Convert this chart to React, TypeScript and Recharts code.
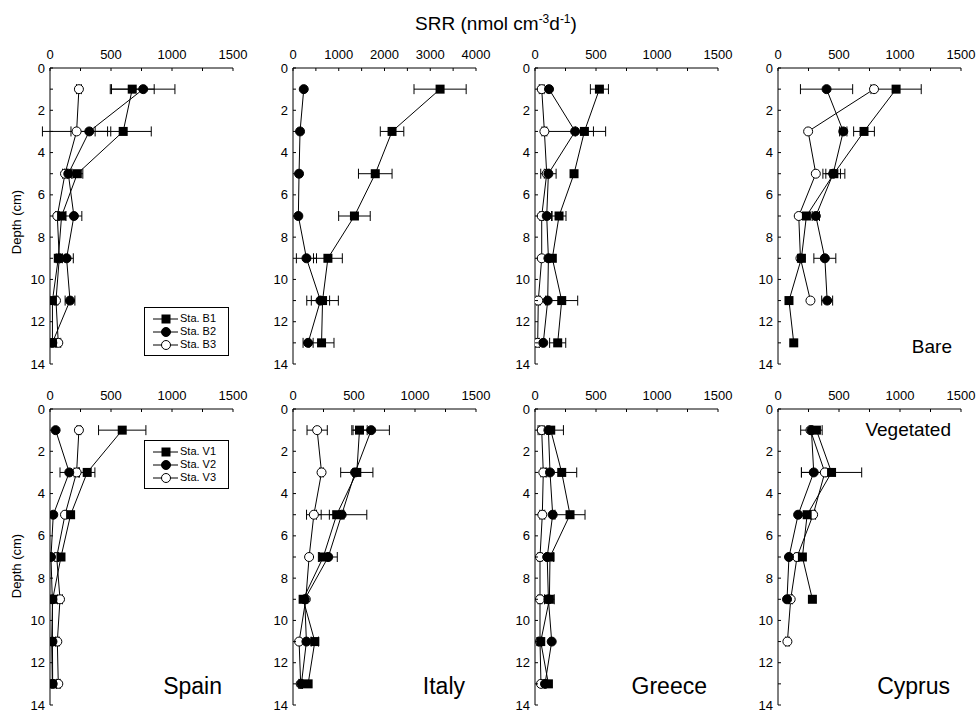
import React from 'react';
import { ScatterChart, Scatter, XAxis, YAxis, ErrorBar, Legend } from 'recharts';

const FONT = '"Liberation Sans", Arial, Helvetica, sans-serif';

// sampling depths (cm) and axis ticks
const DEPTHS = [1, 3, 5, 7, 9, 11, 13];
const DEPTH_TICKS = [0, 1, 2, 3, 4, 5, 6, 7, 8, 9, 10, 11, 12, 13, 14];
const SRR_TICKS = [0, 250, 500, 750, 1000, 1250, 1500];
const SRR_TICKS_WIDE = [0, 500, 1000, 1500, 2000, 2500, 3000, 3500, 4000];

const COUNTRIES = ['Spain', 'Italy', 'Greece', 'Cyprus'];
const BARE_NAMES = ['Sta. B1', 'Sta. B2', 'Sta. B3'];
const VEG_NAMES = ['Sta. V1', 'Sta. V2', 'Sta. V3'];

// Bare sediments, SRR (nmol cm-3 d-1) with errors
const spainB1 = [674, 600, 224, 95, 68, 20, 20];
const spainB1Err = [180, 230, 45, 0, 0, 0, 0];
const spainB2 = [764, 322, 150, 196, 136, 164, 19];
const spainB2Err = [260, 150, 30, 65, 55, 40, 0];
const spainB3 = [237, 218, 123, 60, 76, 49, 68];
const spainB3Err = [20, 280, 20, 15, 25, 15, 20];

const italyB1 = [3215, 2165, 1798, 1343, 763, 646, 624];
const italyB1Err = [570, 257, 367, 345, 315, 345, 272];
const italyB2 = [235, 154, 132, 117, 294, 600, 330];
const italyB2Err = [0, 0, 0, 0, 220, 200, 110];
const italyB3: (number | null)[] = [null, null, null, null, null, null, null];
const italyB3Err = [0, 0, 0, 0, 0, 0, 0];

const greeceB1 = [528, 405, 320, 197, 142, 219, 186];
const greeceB1Err = [74, 74, 0, 57, 0, 131, 66];
const greeceB2 = [115, 329, 110, 96, 110, 104, 68];
const greeceB2Err = [0, 250, 63, 40, 0, 0, 0];
const greeceB3 = [55, 77, 96, 55, 55, 27, 22];
const greeceB3Err = [20, 20, 20, 15, 0, 15, 15];

const cyprusB1 = [968, 705, 458, 233, 192, 90, 129];
const cyprusB1Err = [206, 85, 90, 0, 0, 0, 0];
const cyprusB2 = [398, 535, 452, 310, 384, 403, null];
const cyprusB2Err = [214, 30, 60, 30, 90, 45, 0];
const cyprusB3 = [787, 247, 310, 170, 184, 266, null];
const cyprusB3Err = [0, 0, 0, 0, 0, 0, 0];

// Vegetated sediments
const spainV1 = [592, 305, 169, 90, 22, 14, 19];
const spainV1Err = [194, 63, 0, 0, 0, 0, 0];
const spainV2 = [46, 158, 27, 8, 19, 20, 22];
const spainV2Err = [0, 76, 0, 0, 0, 0, 0];
const spainV3 = [237, 218, 123, 55, 82, 60, 68];
const spainV3Err = [15, 20, 0, 15, 20, 15, 15];

const italyV1 = [545, 523, 358, 248, 83, 179, 124];
const italyV1Err = [63, 132, 60, 40, 0, 30, 0];
const italyV2 = [641, 509, 399, 289, 96, 110, 69];
const italyV2Err = [149, 0, 206, 74, 0, 0, 0];
const italyV3 = [198, 234, 171, 132, 105, 50, 63];
const italyV3Err = [83, 15, 60, 0, 0, 0, 15];

const greeceV1 = [129, 219, 287, 123, 118, 47, 110];
const greeceV1Err = [104, 123, 123, 30, 40, 0, 0];
const greeceV2 = [110, 123, 145, 100, 110, 137, 82];
const greeceV2Err = [0, 0, 0, 0, 0, 0, 0];
const greeceV3 = [55, 68, 60, 41, 41, 41, 49];
const greeceV3Err = [20, 20, 20, 15, 15, 15, 0];

const cyprusV1 = [315, 439, 239, 200, 282, null, null];
const cyprusV1Err = [0, 247, 0, 0, 0, 0, 0];
const cyprusV2 = [274, 293, 165, 90, 74, null, null];
const cyprusV2Err = [88, 101, 0, 0, 0, 0, 0];
const cyprusV3 = [266, 384, 288, 156, 104, 77, null];
const cyprusV3Err = [0, 0, 20, 15, 15, 15, 0];

type Kind = 'square' | 'filled' | 'open';
const KINDS: Kind[] = ['square', 'filled', 'open'];

// layout
const PLOT_LEFT = [50, 293, 535, 778];
const PLOT_TOP = [68, 409];
const PLOT_W = 183;
const PLOT_H = 296;
const CHART_W = 250;
const CHART_H = 336;
const MARGIN = { top: 0, right: 27, bottom: 10, left: 10 };

const toPoints = (values: (number | null)[], errs: number[]) =>
  DEPTHS.map((d, i) => ({ x: values[i], y: d, err: errs[i] || undefined })).filter((p) => p.x != null);

function Marker({ kind, cx, cy }: { kind: Kind; cx: number; cy: number }) {
  if (kind === 'square') return <rect x={cx - 4.5} y={cy - 4.5} width={9} height={9} fill="#000" />;
  return (
    <circle cx={cx} cy={cy} r={4.5} fill={kind === 'filled' ? '#000' : '#fff'} stroke="#000" strokeWidth={1} />
  );
}

const TopTick = (props: any) => {
  const { x, y, payload, step } = props;
  return (
    <g>
      <line x1={x} x2={x} y1={y} y2={y + 3} stroke="#000" />
      {payload.value % step === 0 && (
        <text x={x} y={y - 9} textAnchor="middle" fontSize={13} fontFamily={FONT} fill="#000">
          {payload.value}
        </text>
      )}
    </g>
  );
};

const LeftTick = (props: any) => {
  const { x, y, payload } = props;
  return (
    <g>
      <line x1={x} x2={x + 3} y1={y} y2={y} stroke="#000" />
      {payload.value % 2 === 0 && (
        <text x={x - 5} y={y + 4.5} textAnchor="end" fontSize={13} fontFamily={FONT} fill="#000">
          {payload.value}
        </text>
      )}
    </g>
  );
};

const BottomTick = (props: any) => <line x1={props.x} x2={props.x} y1={props.y} y2={props.y - 3} stroke="#000" />;
const RightTick = (props: any) => <line x1={props.x} x2={props.x - 3} y1={props.y} y2={props.y} stroke="#000" />;

function StationLegend({ payload }: any) {
  const items = [...(payload || [])].sort((a, b) => String(a.value).localeCompare(String(b.value)));
  return (
    <div
      style={{
        border: '1px solid #000',
        background: '#fff',
        padding: '4px 0 4px 8px',
        fontFamily: FONT,
        fontSize: 11,
        lineHeight: '13px',
        color: '#000',
      }}
    >
      {items.map((it, i) => (
        <div key={it.value} style={{ display: 'flex', alignItems: 'center', height: 13 }}>
          <svg width={25} height={12}>
            <line x1={0} x2={25} y1={6} y2={6} stroke="#000" />
            <Marker kind={KINDS[i]} cx={13} cy={6} />
          </svg>
          <span style={{ marginLeft: 2 }}>{it.value}</span>
        </div>
      ))}
    </div>
  );
}

const PANELS = [
  { row: 0, col: 0, names: BARE_NAMES, values: [spainB1, spainB2, spainB3], errs: [spainB1Err, spainB2Err, spainB3Err], legendTop: 269 },
  { row: 0, col: 1, names: BARE_NAMES, values: [italyB1, italyB2, italyB3], errs: [italyB1Err, italyB2Err, italyB3Err], wide: true },
  { row: 0, col: 2, names: BARE_NAMES, values: [greeceB1, greeceB2, greeceB3], errs: [greeceB1Err, greeceB2Err, greeceB3Err] },
  { row: 0, col: 3, names: BARE_NAMES, values: [cyprusB1, cyprusB2, cyprusB3], errs: [cyprusB1Err, cyprusB2Err, cyprusB3Err] },
  { row: 1, col: 0, names: VEG_NAMES, values: [spainV1, spainV2, spainV3], errs: [spainV1Err, spainV2Err, spainV3Err], legendTop: 61 },
  { row: 1, col: 1, names: VEG_NAMES, values: [italyV1, italyV2, italyV3], errs: [italyV1Err, italyV2Err, italyV3Err] },
  { row: 1, col: 2, names: VEG_NAMES, values: [greeceV1, greeceV2, greeceV3], errs: [greeceV1Err, greeceV2Err, greeceV3Err] },
  { row: 1, col: 3, names: VEG_NAMES, values: [cyprusV1, cyprusV2, cyprusV3], errs: [cyprusV1Err, cyprusV2Err, cyprusV3Err] },
];

function Panel({ panel }: { panel: any }) {
  const ticks = panel.wide ? SRR_TICKS_WIDE : SRR_TICKS;
  const max = panel.wide ? 4000 : 1500;
  const step = panel.wide ? 1000 : 500;
  // draw open circles first, squares last
  const order = [2, 1, 0];
  return (
    <div
      style={{
        position: 'absolute',
        left: PLOT_LEFT[panel.col] - MARGIN.left - 30,
        top: PLOT_TOP[panel.row] - 30,
      }}
    >
      <ScatterChart width={CHART_W} height={CHART_H} margin={MARGIN}>
        <XAxis
          type="number"
          dataKey="x"
          orientation="top"
          domain={[0, max]}
          ticks={ticks}
          interval={0}
          height={30}
          tickSize={0}
          tickMargin={0}
          tickLine={false}
          axisLine={{ stroke: '#000' }}
          tick={(p: any) => <TopTick {...p} step={step} />}
          allowDataOverflow
        />
        <XAxis
          xAxisId="edge"
          type="number"
          orientation="bottom"
          domain={[0, max]}
          ticks={ticks}
          interval={0}
          height={0}
          tickSize={0}
          tickMargin={0}
          tickLine={false}
          axisLine={{ stroke: '#000' }}
          tick={BottomTick}
          allowDataOverflow
        />
        <YAxis
          type="number"
          dataKey="y"
          reversed
          domain={[0, 14]}
          ticks={DEPTH_TICKS}
          interval={0}
          width={30}
          tickSize={0}
          tickMargin={0}
          tickLine={false}
          axisLine={{ stroke: '#000' }}
          tick={LeftTick}
          allowDataOverflow
        />
        <YAxis
          yAxisId="edge"
          type="number"
          orientation="right"
          reversed
          domain={[0, 14]}
          ticks={DEPTH_TICKS}
          interval={0}
          width={0}
          tickSize={0}
          tickMargin={0}
          tickLine={false}
          axisLine={{ stroke: '#000' }}
          tick={RightTick}
          allowDataOverflow
        />
        {order.map((i) => (
          <Scatter
            key={panel.names[i]}
            name={panel.names[i]}
            data={toPoints(panel.values[i], panel.errs[i])}
            fill="#000"
            line={{ stroke: '#000', strokeWidth: 1 }}
            lineType="joint"
            shape={(p: any) => <Marker kind={KINDS[i]} cx={p.cx} cy={p.cy} />}
            isAnimationActive={false}
          >
            <ErrorBar dataKey="err" direction="x" width={5} stroke="#000" strokeWidth={1} isAnimationActive={false} />
          </Scatter>
        ))}
        {panel.legendTop != null && (
          <Legend
            layout="vertical"
            align="center"
            verticalAlign="middle"
            content={StationLegend}
            wrapperStyle={{ left: 134, top: panel.legendTop, width: 85 }}
          />
        )}
      </ScatterChart>
    </div>
  );
}

export default function App() {
  const plotRight = (c: number) => PLOT_LEFT[c] + PLOT_W;
  const plotBottom = (r: number) => PLOT_TOP[r] + PLOT_H;
  return (
    <div style={{ position: 'absolute', left: 0, top: 0, width: 978, height: 713, background: '#fff', fontFamily: FONT }}>
      {PANELS.map((p) => (
        <Panel key={`${p.row}-${p.col}`} panel={p} />
      ))}
      <svg width={978} height={713} style={{ position: 'absolute', left: 0, top: 0, pointerEvents: 'none' }}>
        <text x={496} y={30} textAnchor="middle" fontSize={19} fontFamily={FONT} fill="#000">
          SRR (nmol cm
          <tspan dy={-7} fontSize={12}>-3</tspan>
          <tspan dy={7}>d</tspan>
          <tspan dy={-7} fontSize={12}>-1</tspan>
          <tspan dy={7}>)</tspan>
        </text>
        {[0, 1].map((r) => {
          const cy = r === 0 ? 222 : 566;
          return (
            <text key={r} x={21} y={cy} transform={`rotate(-90, 21, ${cy})`} textAnchor="middle" fontSize={13} fontFamily={FONT} fill="#000">
              Depth (cm)
            </text>
          );
        })}
        {COUNTRIES.map((name, c) => (
          <text key={name} x={plotRight(c) - 11} y={plotBottom(1) - 11} textAnchor="end" fontSize={23} fontFamily={FONT} fill="#000">
            {name}
          </text>
        ))}
        <text x={plotRight(3) - 9} y={plotBottom(0) - 11} textAnchor="end" fontSize={19} fontFamily={FONT} fill="#000">
          Bare
        </text>
        <text x={plotRight(3) - 10} y={PLOT_TOP[1] + 27} textAnchor="end" fontSize={19} fontFamily={FONT} fill="#000">
          Vegetated
        </text>
      </svg>
    </div>
  );
}
